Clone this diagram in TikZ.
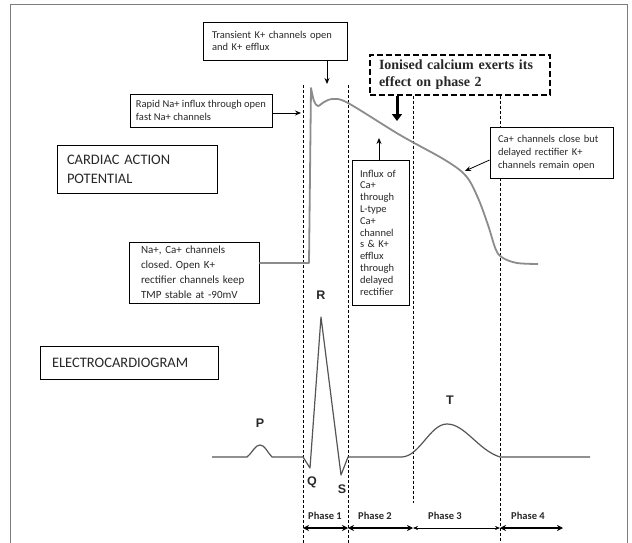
\documentclass[tikz,border=0pt]{standalone}
\usepackage{fontspec}
\setmainfont{Carlito}
\newfontfamily\titlefont{Liberation Serif}
\newfontfamily\wavefont{Liberation Sans}
\usepackage{xcolor}
\definecolor{apgray}{RGB}{140, 140, 140}
\definecolor{ecggray}{RGB}{85, 85, 85}
\definecolor{framegray}{RGB}{125, 125, 125}
\definecolor{inkgray}{RGB}{40, 40, 40}
\usetikzlibrary{arrows.meta,positioning}
\frenchspacing

\begin{document}
\begin{tikzpicture}[x=1pt, y=-1pt, every node/.style={font=\fontsize{10.5}{12.5}\selectfont}]
    % Define styles
    \tikzset{
      infobox/.style={rectangle, draw, line width=0.8pt, fill=white, align=left, inner xsep=9pt, inner ysep=2pt, text=inkgray},
      titlebox/.style={infobox, dash pattern=on 6pt off 3pt, line width=1.1pt},
      phaseline/.style={dash pattern=on 3pt off 2pt, line width=0.9pt},
      pointer/.style={-{Stealth[length=6pt,width=5pt]}, line width=0.8pt},
      bigpointer/.style={-{Triangle[length=7pt,width=10pt]}, line width=3pt},
      phasespan/.style={{Stealth[length=6pt,width=6pt]}-{Stealth[length=6pt,width=6pt]}, line width=1.2pt},
      thinspan/.style={{Stealth[length=5pt,width=4pt]}-{Stealth[length=5pt,width=4pt]}, line width=0.6pt},
      apcurve/.style={apgray, line width=1.8pt, line join=round},
      ecgline/.style={ecggray, line width=1.2pt, line join=round},
      wave/.style={font=\wavefont\bfseries\fontsize{12.5}{13}\selectfont, text=inkgray},
      phaselabel/.style={font=\bfseries\fontsize{10.5}{12}\selectfont, text=inkgray}
    }
    \useasboundingbox (0,0) rectangle (632,543);

    % outer frame
    \draw[framegray, line width=1pt] (10,543) -- (10,5) -- (627,5) -- (627,543);

    % Text boxes
    \node[infobox, text width=126pt, minimum height=38pt] (trans) at (275,41)
        {Transient K+ channels open\\and K+ efflux};
    \node[infobox, inner xsep=3pt, minimum width=142pt, minimum height=33pt] (rapid) at (201,110.5)
        {Rapid Na+ influx through open\\fast Na+ channels};
    \node[titlebox, inner xsep=9pt, text width=162pt, minimum height=40pt,
          font=\titlefont\bfseries\fontsize{14}{17}\selectfont] (ionised) at (460,75)
        {Ionised calcium exerts its\\effect on phase 2};
    \node[infobox, inner xsep=10pt, text width=140pt, minimum height=48pt,
          font=\fontsize{14.5}{19}\selectfont] (cardiac) at (137,169)
        {CARDIAC ACTION\\POTENTIAL};
    \node[infobox, inner xsep=8pt, text width=107pt, minimum height=51pt,
          font=\fontsize{10.5}{13}\selectfont] (cabox) at (551.5,152.5)
        {Ca+ channels close but\\delayed rectifier K+\\channels remain open};
    \node[infobox, inner xsep=8pt, text width=41pt, minimum height=145pt,
          font=\fontsize{10.5}{11.8}\selectfont] (influx) at (380.5,232.5)
        {Influx of\\Ca+\\through\\L-type\\Ca+\\channel\\s \& K+\\efflux\\through\\delayed\\rectifier};
    \node[infobox, inner xsep=12pt, text width=106pt, minimum height=61pt,
          font=\fontsize{11}{15}\selectfont] (rest) at (194,272.5)
        {Na+, Ca+ channels\\closed. Open K+\\rectifier channels keep\\TMP stable at -90mV};
    \node[infobox, inner xsep=12pt, text width=154pt, minimum height=33pt,
          font=\fontsize{14.5}{19}\selectfont] (ecgbox) at (129,362.5)
        {ELECTROCARDIOGRAM};

    % Phase boundaries
    \coordinate (b0) at (303,528);
    \coordinate (b1) at (348,528);
    \coordinate (b2) at (413,528);
    \coordinate (b3) at (500,528);
    \coordinate (b4) at (563,528);

    \draw[phaseline] (303,85) -- (303,543);
    \draw[phaseline] (348,85) -- (348,543);
    \draw[phaseline] (ionised.south -| b2) -- (413,503);
    \draw[phaseline] (ionised.south -| b3) -- (cabox.north -| b3);
    \draw[phaseline] (cabox.south -| b3) -- (500,543);

    % Action potential
    \draw[apcurve] ([yshift=9.5pt]rest.east) -- (309,263) -- plot[smooth, tension=0.55] coordinates
        {(311,88) (314,101) (318,106) (324,102) (333,99) (348,103) (400,135) (445,160)
         (466,176) (478,198) (488,225) (496,250) (503,258) (517,263) (538,264)};

    % ECG trace
    \draw[ecgline] (212,457) -- (247,457) .. controls (253,452) and (255,445) .. (260,445)
        .. controls (265,445) and (267,452) .. (272,457) -- (303,457) -- (310,468)
        -- (321,317) -- (341,475) -- (348,457) -- (402,457)
        .. controls (420,456) and (430,424) .. (447,424)
        .. controls (465,424) and (478,450) .. (500,457) -- (590,457);
    \node[wave] (pwave) at (260,423) {P};
    \node[wave] (rwave) at (321,295) {R};
    \node[wave] (qwave) at (312,482) {Q};
    \node[wave] (swave) at (342,489) {S};
    \node[wave] (twave) at (450,400) {T};

    % Pointers
    \coordinate (notch) at (327,84);
    \coordinate (upstroke) at (301,113);
    \coordinate (plateau) at (397,121);
    \coordinate (caentry) at (379,138);
    \coordinate (repol) at (465,171);
    \draw[pointer] (trans.south -| notch) -- (notch);
    \draw[pointer] (rapid.east |- upstroke) -- (upstroke);
    \draw[bigpointer] (ionised.south -| plateau) -- (plateau);
    \draw[pointer] (influx.north -| caentry) -- (caentry);
    \draw[pointer] ([yshift=-7.5pt]cabox.west) -- (repol);

    % Phases
    \draw[phasespan] (b0) -- (b1);
    \draw[phasespan] (b1) -- (b2);
    \draw[thinspan] (b2) -- (b3);
    \draw[phasespan] (b3) -- (b4);
    \node[phaselabel] (ph1) at (325,516) {Phase 1};
    \node[phaselabel] (ph2) at (375,516) {Phase 2};
    \node[phaselabel] (ph3) at (445,516) {Phase 3};
    \node[phaselabel] (ph4) at (528,516) {Phase 4};
\end{tikzpicture}
\end{document}
